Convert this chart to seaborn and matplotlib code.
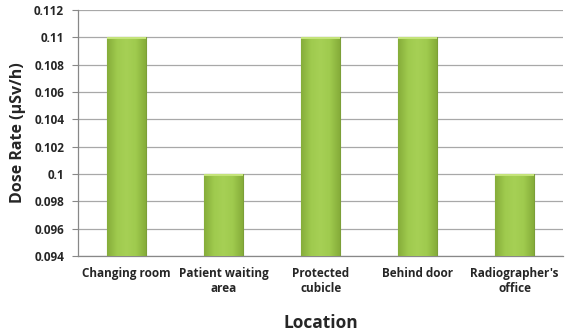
import matplotlib
matplotlib.use("Agg")
import matplotlib.pyplot as plt
from matplotlib.colors import LinearSegmentedColormap
import seaborn as sns
import pandas as pd
import numpy as np

# values
locations = ["Changing room", "Patient waiting\narea", "Protected\ncubicle",
             "Behind door", "Radiographer's\noffice"]
dose_rate = [0.110, 0.100, 0.110, 0.110, 0.100]
y_ticks = [0.094, 0.096, 0.098, 0.1, 0.102, 0.104, 0.106, 0.108, 0.11, 0.112]

sns.set_style("white")
plt.rcParams["font.family"] = ["Open Sans", "DejaVu Sans"]

df = pd.DataFrame({"Location": locations, "Dose": dose_rate})

fig = plt.figure(figsize=(5.66, 3.35), dpi=100)
ax = fig.add_axes([0.138, 0.236, 0.857, 0.734])

sns.barplot(data=df, x="Location", y="Dose", ax=ax, color="#9DC84B",
            width=0.4, edgecolor="#7C9F38", linewidth=0.8, saturation=1, zorder=3)

ax.set_ylim(0.094, 0.112)
ax.set_xlim(-0.5, len(locations) - 0.5)

# soft horizontal shading on the bars (darker edges, lighter middle)
shade = LinearSegmentedColormap.from_list(
    "bar_shade", ["#86AD3A", "#9FCA4E", "#A6D055", "#9FCA4E", "#86AD3A"])
grad = np.linspace(0, 1, 64).reshape(1, -1)
for bar in list(ax.patches):
    x0, w = bar.get_x(), bar.get_width()
    top = bar.get_height()
    im = ax.imshow(grad, cmap=shade, aspect="auto", zorder=3.5,
                   extent=[x0, x0 + w, 0.094, top], interpolation="bicubic")
    im.set_clip_path(bar)
    # light bevel at the top of the bar
    ax.fill_between([x0, x0 + w], top - 0.00012, top, color="#C4E37A",
                    zorder=3.6, linewidth=0)
ax.set_ylim(0.094, 0.112)
ax.set_xlim(-0.5, len(locations) - 0.5)

ax.set_yticks(y_ticks)
ax.set_yticklabels([f"{t:g}" for t in y_ticks], fontsize=8.5, fontweight="bold")
ax.yaxis.grid(True, color="#A8A8A8", linewidth=0.9, zorder=0)
ax.set_axisbelow(True)

ax.set_xticks(range(len(locations)))
ax.set_xticklabels(locations, fontsize=8.5, fontweight="bold")
ax.tick_params(axis="x", length=0, pad=8)
ax.tick_params(axis="y", length=4, color="#888888", width=0.8, pad=6)
ax.yaxis.set_ticks_position("left")
# tick marks between categories
ax.set_xticks(np.arange(len(locations) + 1) - 0.5, minor=True)
ax.tick_params(axis="x", which="minor", length=4, color="#888888", width=0.8)

for side in ["top", "right"]:
    ax.spines[side].set_visible(False)
for side in ["left", "bottom"]:
    ax.spines[side].set_color("#888888")
    ax.spines[side].set_linewidth(0.9)

ax.set_ylabel("Dose Rate (\u00b5Sv/h)", fontsize=11.5, fontweight="bold", labelpad=6)
ax.set_xlabel("Location", fontsize=12.5, fontweight="bold", labelpad=14)

fig.savefig("out.png", dpi=100)
